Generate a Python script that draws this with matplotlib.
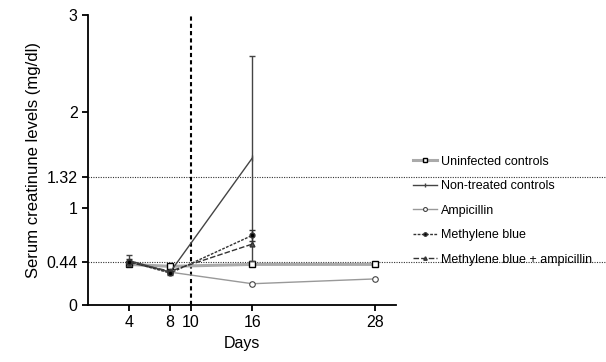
import matplotlib
matplotlib.use("Agg")
import matplotlib.pyplot as plt

days = [4, 8, 16, 28]
days_short = [4, 8, 16]

uninfected = [0.42, 0.40, 0.42, 0.42]
non_treated = [0.46, 0.34, 1.52]
non_treated_err = [0.06, 0.02, 1.06]
ampicillin = [0.44, 0.34, 0.22, 0.27]
mb = [0.45, 0.33, 0.72]
mb_err = [0.03, 0.02, 0.06]
mb_amp = [0.44, 0.35, 0.63]

x_ticks = [4, 8, 10, 16, 28]
y_ticks = [0, 0.44, 1, 1.32, 2, 3]
y_tick_labels = ["0", "0.44", "1", "1.32", "2", "3"]
thresholds = [0.44, 1.32]

plt.rcParams["font.family"] = ["Liberation Sans", "DejaVu Sans"]

fig = plt.figure(figsize=(6.06, 3.62), dpi=100)
ax = fig.add_axes([88 / 606, 1 - 305 / 362, 308 / 606, 290 / 362])

# reference lines run into the legend area
for t in thresholds:
    ax.plot([0, 1.68], [t, t], transform=ax.get_yaxis_transform(),
            color="#333333", lw=0.8, ls=(0, (1, 1.2)), clip_on=False, zorder=1)
ax.axvline(10, color="black", lw=1.5, ls=(0, (2, 1.5)), zorder=2)

h1, = ax.plot(days, uninfected, color="#aaaaaa", lw=2.2, marker="s", ms=4.5,
              mfc="white", mec="black", mew=1.0, zorder=3)
h2 = ax.errorbar(days_short, non_treated, yerr=non_treated_err, color="#444444", lw=1.0,
                 marker="|", ms=4, capsize=2, elinewidth=1.0, zorder=4)
h3, = ax.plot(days, ampicillin, color="#999999", lw=1.0, marker="o", ms=4,
              mfc="white", mec="#444444", mew=0.8, zorder=3)
h4 = ax.errorbar(days_short, mb, yerr=mb_err, color="#333333", lw=1.0, ls=(0, (2, 1)),
                 marker="o", ms=3.5, mfc="black", capsize=2, zorder=4)
h5, = ax.plot(days_short, mb_amp, color="#333333", lw=1.0, ls=(0, (4, 1.5)),
              marker="^", ms=3.5, mfc="#555555", zorder=4)

ax.set_xlim(0, 30)
ax.set_ylim(0, 3)
ax.set_xticks(x_ticks)
ax.set_yticks(y_ticks)
ax.set_yticklabels(y_tick_labels)
ax.tick_params(labelsize=11.5, width=1.3, length=4, direction="out", colors="black")
for s in ["top", "right"]:
    ax.spines[s].set_visible(False)
for s in ["left", "bottom"]:
    ax.spines[s].set_linewidth(1.3)

ax.set_xlabel("Days", fontsize=11.5)
ax.set_ylabel("Serum creatinune levels (mg/dl)", fontsize=12)

labels = ["Uninfected controls", "Non-treated controls", "Ampicillin",
          "Methylene blue", "Methylene blue + ampicillin"]
ax.legend([h1, h2[0], h3, h4[0], h5], labels, loc="center left",
          bbox_to_anchor=(1.02, 0.325), frameon=False, markerscale=0.7,
          fontsize=9, handlelength=1.9, labelspacing=1.0, handletextpad=0.3)

plt.savefig("out.png", dpi=100)
